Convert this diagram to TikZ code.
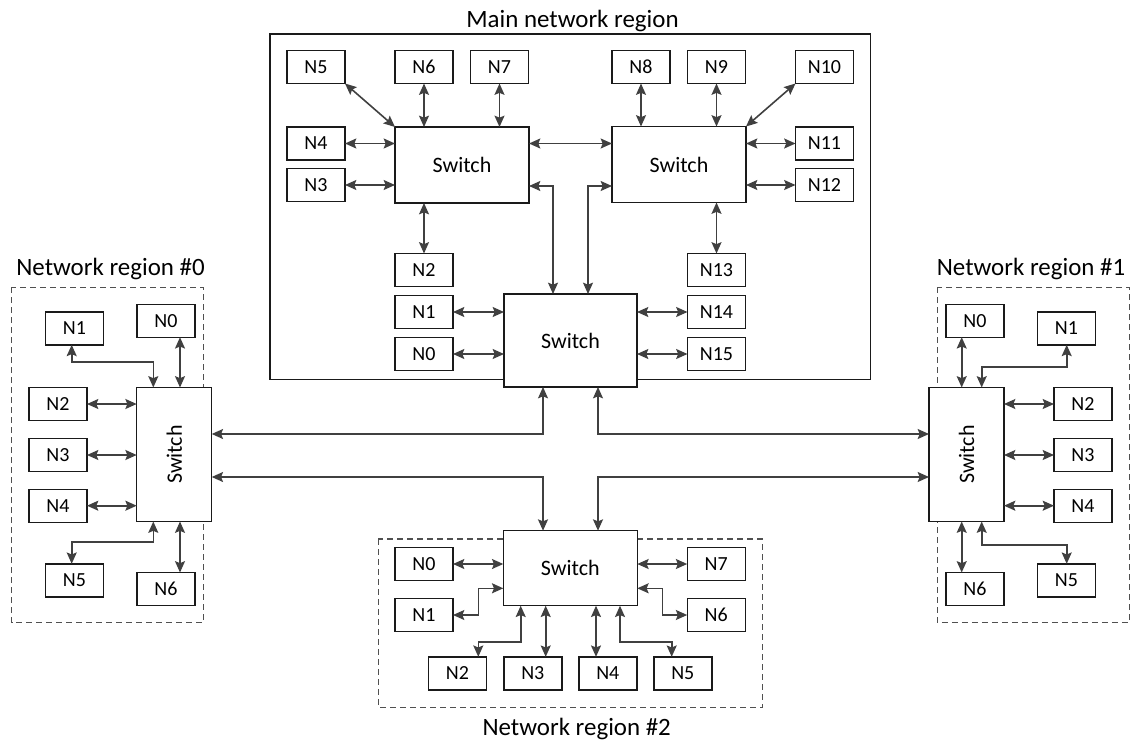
\documentclass[tikz,border=0pt]{standalone}
\usepackage{fontspec}
\setmainfont{Carlito}
\usetikzlibrary{arrows.meta}
\definecolor{wire}{HTML}{404040}
\definecolor{edge}{HTML}{1A1A1A}
\definecolor{dash}{HTML}{505050}

\begin{document}
\begin{tikzpicture}[x=0.75pt,y=-0.75pt,
  >={Stealth[length=8.5pt,width=7.5pt,inset=1.5pt]},
  nbox/.style={draw=edge,line width=1.05pt,fill=white,inner sep=0pt,outer sep=0pt,
    minimum width=43.5pt,minimum height=24.75pt,font=\fontsize{15}{17}\selectfont},
  swbox/.style={draw=edge,line width=1.05pt,fill=white,inner sep=0pt,outer sep=0pt,
    font=\fontsize{16.5}{19}\selectfont},
  swwide/.style={swbox,minimum width=100.5pt,minimum height=57pt},
  swtall/.style={swbox,minimum width=56.25pt,minimum height=100.5pt},
  conn/.style={draw=wire,line width=1.2pt,<->},
  regionframe/.style={draw=dash,line width=0.8pt,dash pattern=on 4.5pt off 3pt},
  mainframe/.style={draw=edge,line width=0.9pt},
  caption/.style={font=\fontsize{18.7}{22}\selectfont,anchor=base}
]
\useasboundingbox (0,0) rectangle (1132,742);

% ---------- region frames and captions ----------
\draw[mainframe] (270,34) rectangle (870.7,379.3);
\draw[regionframe] (11.7,287.3) rectangle (203.3,622.7);
\draw[regionframe] (937.3,287.3) rectangle (1129.3,622.7);
\draw[regionframe] (378.3,539) rectangle (762.3,707.3);

\node[caption] (tmain) at (572.5,28) {Main network region};
\node[caption] (t0) at (110.5,275) {Network region \#0};
\node[caption] (t1) at (1031,275) {Network region \#1};
\node[caption] (t2) at (576.7,735) {Network region \#2};

% ---------- main region ----------
\node[swwide] (swL) at (462,165) {Switch};
\node[swwide] (swR) at (679,164.5) {Switch};
\node[swbox,minimum width=99.75pt,minimum height=69.75pt] (swM) at (570.5,340.5) {Switch};

\node[nbox] (m5) at (316,67) {N5};
\node[nbox] (m6) at (424,67) {N6};
\node[nbox] (m7) at (499.5,67) {N7};
\node[nbox] (m8) at (641,67) {N8};
\node[nbox] (m9) at (716.5,67) {N9};
\node[nbox] (m10) at (824.5,67) {N10};
\node[nbox] (m4) at (316,143.5) {N4};
\node[nbox] (m3) at (316,185) {N3};
\node[nbox] (m11) at (824.5,143.5) {N11};
\node[nbox] (m12) at (824.5,185) {N12};
\node[nbox] (m2) at (424,270) {N2};
\node[nbox] (m1) at (424,312) {N1};
\node[nbox] (m0) at (424,354) {N0};
\node[nbox] (m13) at (716.5,270) {N13};
\node[nbox] (m14) at (716.5,312) {N14};
\node[nbox] (m15) at (716.5,354) {N15};

\coordinate (colA) at (553,186);
\coordinate (colB) at (588,186);

\draw[conn] (m5.south east) -- (swL.north west);
\draw[conn] (m6.south) -- (m6.south |- swL.north);
\draw[conn] (m7.south) -- (m7.south |- swL.north);
\draw[conn] (m4.east) -- (m4.east -| swL.west);
\draw[conn] (m3.east) -- (m3.east -| swL.west);
\draw[conn] (swL.east |- m4.east) -- (swR.west |- m4.east);
\draw[conn] (m8.south) -- (m8.south |- swR.north);
\draw[conn] (m9.south) -- (m9.south |- swR.north);
\draw[conn] (m10.south west) -- (swR.north east);
\draw[conn] (m11.west) -- (m11.west -| swR.east);
\draw[conn] (m12.west) -- (m12.west -| swR.east);
\draw[conn] (m2.north) -- (m2.north |- swL.south);
\draw[conn] (m13.north) -- (m13.north |- swR.south);
\draw[conn] (swL.east |- colA) -- (colA) -- (swM.north -| colA);
\draw[conn] (swR.west |- colB) -- (colB) -- (swM.north -| colB);
\draw[conn] (m1.east) -- (m1.east -| swM.west);
\draw[conn] (m0.east) -- (m0.east -| swM.west);
\draw[conn] (m14.west) -- (m14.west -| swM.east);
\draw[conn] (m15.west) -- (m15.west -| swM.east);

% ---------- network region #0 ----------
\node[swtall] (sw0) at (174.2,454.5) {\rotatebox{90}{Switch}};
\node[nbox] (a0) at (166,320.7) {N0};
\node[nbox] (a1) at (74.5,328.3) {N1};
\node[nbox] (a2) at (58,404) {N2};
\node[nbox] (a3) at (58,455) {N3};
\node[nbox] (a4) at (58,505.7) {N4};
\node[nbox] (a5) at (74.5,580.3) {N5};
\node[nbox] (a6) at (166,589) {N6};

\coordinate (acol) at (180,0);
\coordinate (ab1) at (71.7,361.7);
\coordinate (ab2) at (153.3,361.7);
\coordinate (ab5) at (153.3,541.7);
\coordinate (ab6) at (71.7,541.7);

\draw[conn] (a0.south -| acol) -- (sw0.north -| acol);
\draw[conn] (a1.south -| ab1) -- (ab1) -- (ab2) -- (sw0.north -| ab2);
\draw[conn] (a2.east) -- (a2.east -| sw0.west);
\draw[conn] (a3.east) -- (a3.east -| sw0.west);
\draw[conn] (a4.east) -- (a4.east -| sw0.west);
\draw[conn] (sw0.south -| ab5) -- (ab5) -- (ab6) -- (a5.north -| ab6);
\draw[conn] (sw0.south -| acol) -- (a6.north -| acol);

% ---------- network region #1 ----------
\node[swtall] (sw1) at (966.5,454.5) {\rotatebox{90}{Switch}};
\node[nbox] (b0) at (975,320.7) {N0};
\node[nbox] (b1) at (1066.5,328.3) {N1};
\node[nbox] (b2) at (1083,404) {N2};
\node[nbox] (b3) at (1083,455) {N3};
\node[nbox] (b4) at (1083,505.7) {N4};
\node[nbox] (b5) at (1066.5,580.3) {N5};
\node[nbox] (b6) at (975,589) {N6};

\coordinate (bcol) at (961.7,0);
\coordinate (bb1) at (981.7,366.7);
\coordinate (bb2) at (1066.7,366.7);
\coordinate (bb5) at (981.7,545);
\coordinate (bb6) at (1066.7,545);

\draw[conn] (b0.south -| bcol) -- (sw1.north -| bcol);
\draw[conn] (sw1.north -| bb1) -- (bb1) -- (bb2) -- (b1.south -| bb2);
\draw[conn] (b2.west) -- (b2.west -| sw1.east);
\draw[conn] (b3.west) -- (b3.west -| sw1.east);
\draw[conn] (b4.west) -- (b4.west -| sw1.east);
\draw[conn] (sw1.south -| bb5) -- (bb5) -- (bb6) -- (b5.north -| bb6);
\draw[conn] (sw1.south -| bcol) -- (b6.north -| bcol);

% ---------- network region #2 ----------
\node[swbox,minimum width=100.5pt,minimum height=56.25pt] (sw2) at (570.3,568.2) {Switch};
\node[nbox] (c0) at (424,564) {N0};
\node[nbox] (c1) at (424,615) {N1};
\node[nbox] (c2) at (457.5,673.3) {N2};
\node[nbox] (c3) at (532.8,673.3) {N3};
\node[nbox] (c4) at (607.8,673.3) {N4};
\node[nbox] (c5) at (682.8,673.3) {N5};
\node[nbox] (c6) at (716.2,615) {N6};
\node[nbox] (c7) at (716.2,564) {N7};

\coordinate (cb1) at (478.3,588.3);
\coordinate (cb6) at (662.3,588.3);
\coordinate (cb2a) at (520.7,641.7);
\coordinate (cb2b) at (478.3,641.7);
\coordinate (cb5a) at (620,641.7);
\coordinate (cb5b) at (671.7,641.7);
\coordinate (ccol3) at (545.7,0);
\coordinate (ccol4) at (596,0);

\draw[conn] (c0.east) -- (c0.east -| sw2.west);
\draw[conn] (c7.west) -- (c7.west -| sw2.east);
\draw[conn] (c1.east) -| (cb1) -- (cb1 -| sw2.west);
\draw[conn] (sw2.east |- cb6) -- (cb6) |- (c6.west);
\draw[conn] (sw2.south -| cb2a) -- (cb2a) -- (cb2b) -- (c2.north -| cb2b);
\draw[conn] (sw2.south -| ccol3) -- (c3.north -| ccol3);
\draw[conn] (sw2.south -| ccol4) -- (c4.north -| ccol4);
\draw[conn] (sw2.south -| cb5a) -- (cb5a) -- (cb5b) -- (c5.north -| cb5b);

% ---------- links between regions ----------
\coordinate (upL) at (543,434);
\coordinate (upR) at (598,434);
\coordinate (lowL) at (543,477);
\coordinate (lowR) at (598,477);

\draw[conn] (sw0.east |- upL) -- (upL) -- (swM.south -| upL);
\draw[conn] (sw1.west |- upR) -- (upR) -- (swM.south -| upR);
\draw[conn] (sw0.east |- lowL) -- (lowL) -- (sw2.north -| lowL);
\draw[conn] (sw1.west |- lowR) -- (lowR) -- (sw2.north -| lowR);
\end{tikzpicture}
\end{document}
